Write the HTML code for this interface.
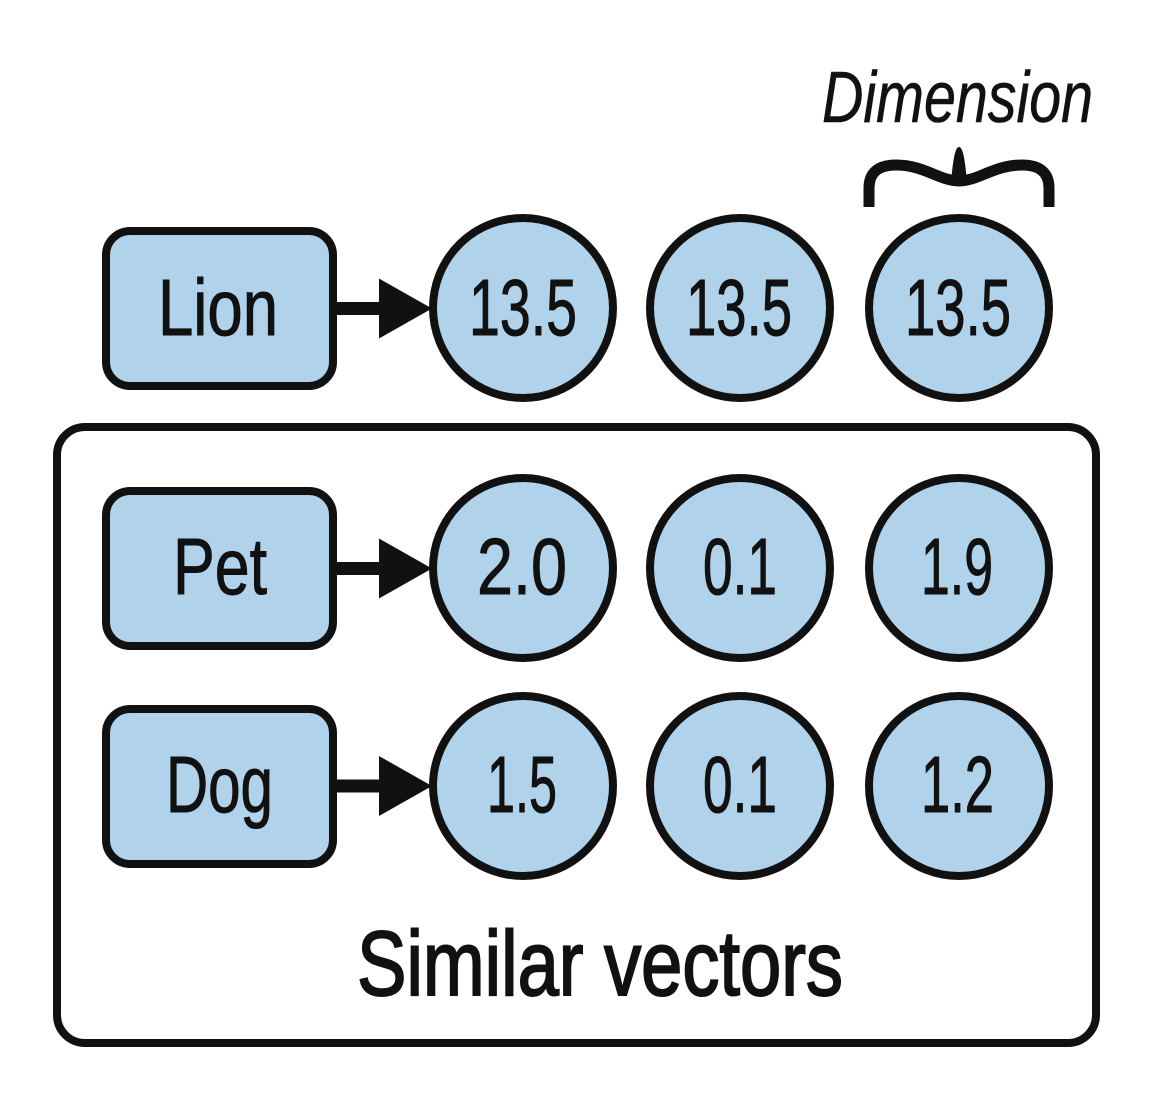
<!DOCTYPE html>
<html>
<head>
<meta charset="utf-8">
<style>
  html, body { margin: 0; padding: 0; background: #ffffff; }
  body { width: 1160px; height: 1105px; overflow: hidden; }
  svg { display: block; }
  text { font-family: "Liberation Sans", "DejaVu Sans", sans-serif; fill: #111; stroke: #111; stroke-width: 1; }
</style>
</head>
<body>
<svg width="1160" height="1105" viewBox="0 0 1160 1105" xmlns="http://www.w3.org/2000/svg">
  <!-- Dimension label -->
  <text x="822" y="122" font-size="72" font-style="italic" textLength="271" lengthAdjust="spacingAndGlyphs" style="stroke-width:0.6">Dimension</text>

  <!-- Brace -->
  <path d="M869 207 L869 188 C869 172 879 165 896 165 C924 165 940 181 959 181 C978 181 994 165 1022 165 C1039 165 1049 172 1049 188 L1049 207"
        fill="none" stroke="#111" stroke-width="11" stroke-linejoin="round"/>
  <path d="M959 147 C963 147 965 160 967 182 L951 182 C953 160 955 147 959 147 Z" fill="#111"/>

  <!-- Similar vectors container -->
  <rect x="57" y="427" width="1039" height="616" rx="28" ry="28" fill="#ffffff" stroke="#111" stroke-width="8"/>

  <!-- Row boxes -->
  <rect x="106" y="231" width="227" height="155" rx="24" ry="24" fill="#b0d3eb" stroke="#111" stroke-width="8"/>
  <rect x="106" y="491" width="227" height="155" rx="24" ry="24" fill="#b0d3eb" stroke="#111" stroke-width="8"/>
  <rect x="106" y="709" width="227" height="155" rx="24" ry="24" fill="#b0d3eb" stroke="#111" stroke-width="8"/>

  <!-- Arrows -->
  <g fill="#111" stroke="none">
    <rect x="335" y="302" width="48" height="13"/>
    <polygon points="379,278.5 432,308.5 379,338.5"/>
    <rect x="335" y="562" width="48" height="13"/>
    <polygon points="379,538.5 432,568.5 379,598.5"/>
    <rect x="335" y="779.5" width="48" height="13"/>
    <polygon points="379,756 432,786 379,816"/>
  </g>

  <!-- Circles -->
  <g fill="#b0d3eb" stroke="#111" stroke-width="8">
    <circle cx="523" cy="308" r="90"/>
    <circle cx="740" cy="308" r="90"/>
    <circle cx="959" cy="308" r="90"/>
    <circle cx="523" cy="568" r="90"/>
    <circle cx="740" cy="568" r="90"/>
    <circle cx="959" cy="568" r="90"/>
    <circle cx="523" cy="786" r="90"/>
    <circle cx="740" cy="786" r="90"/>
    <circle cx="959" cy="786" r="90"/>
  </g>

  <!-- Box labels -->
  <text x="158" y="335" font-size="80" textLength="120" lengthAdjust="spacingAndGlyphs">Lion</text>
  <text x="173" y="594" font-size="80" textLength="94" lengthAdjust="spacingAndGlyphs">Pet</text>
  <text x="166" y="812" font-size="80" textLength="107" lengthAdjust="spacingAndGlyphs">Dog</text>

  <!-- Circle values -->
  <text x="469" y="335" font-size="80" textLength="108" lengthAdjust="spacingAndGlyphs">13.5</text>
  <text x="686" y="335" font-size="80" textLength="106" lengthAdjust="spacingAndGlyphs">13.5</text>
  <text x="905" y="335" font-size="80" textLength="106" lengthAdjust="spacingAndGlyphs">13.5</text>

  <text x="477" y="594" font-size="80" textLength="90" lengthAdjust="spacingAndGlyphs">2.0</text>
  <text x="703" y="594" font-size="80" textLength="74" lengthAdjust="spacingAndGlyphs">0.1</text>
  <text x="921" y="594" font-size="80" textLength="72" lengthAdjust="spacingAndGlyphs">1.9</text>

  <text x="487" y="812" font-size="80" textLength="70" lengthAdjust="spacingAndGlyphs">1.5</text>
  <text x="703" y="812" font-size="80" textLength="74" lengthAdjust="spacingAndGlyphs">0.1</text>
  <text x="921" y="812" font-size="80" textLength="73" lengthAdjust="spacingAndGlyphs">1.2</text>

  <!-- Caption -->
  <text x="357" y="995" font-size="92" textLength="486" lengthAdjust="spacingAndGlyphs" style="stroke-width:2">Similar vectors</text>
</svg>
</body>
</html>
